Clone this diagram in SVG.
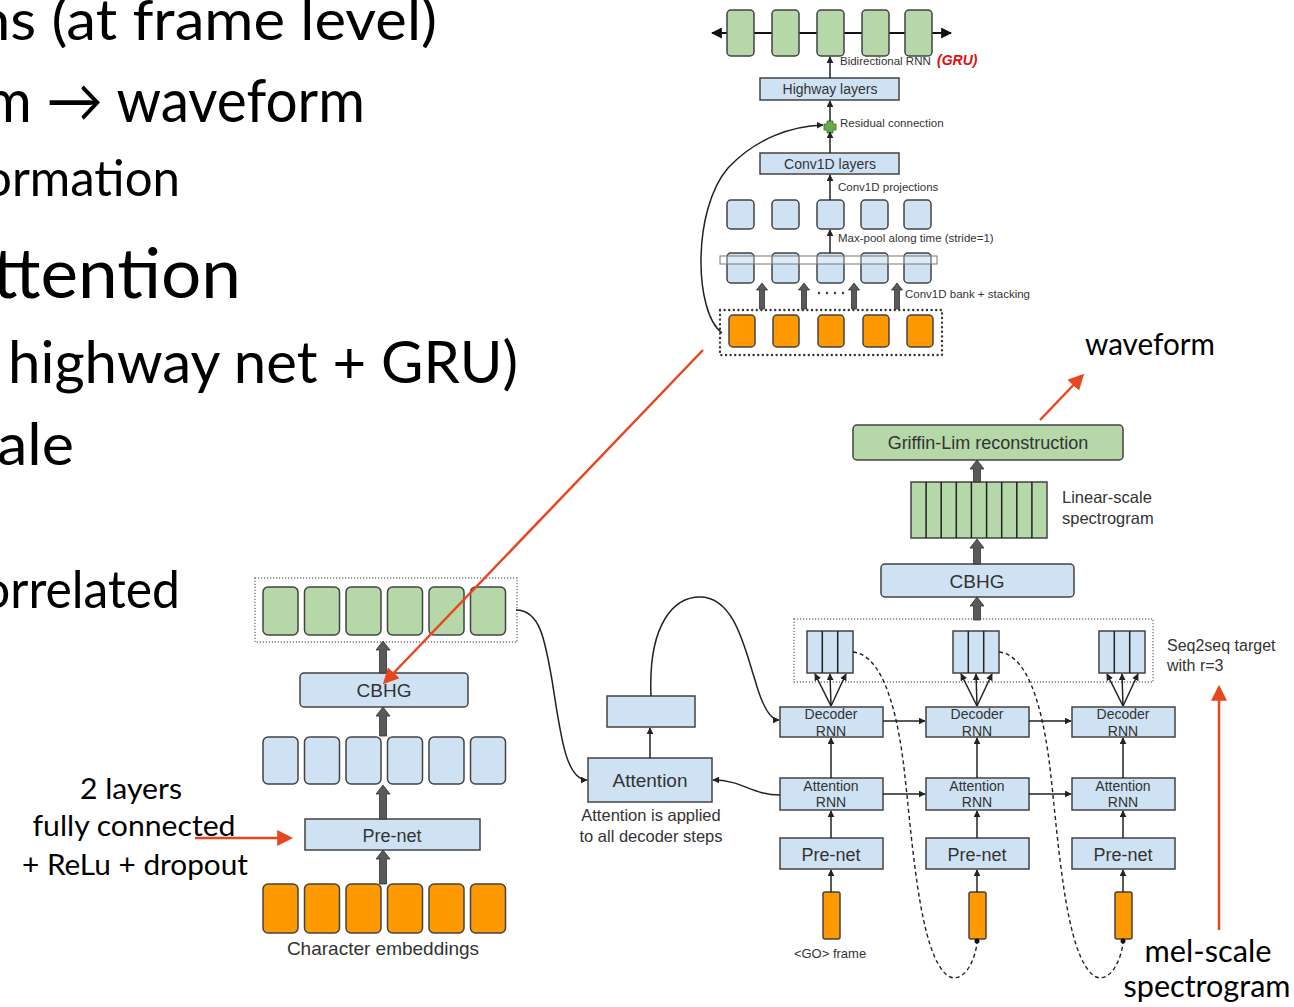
<svg xmlns="http://www.w3.org/2000/svg" width="1294" height="1007" viewBox="0 0 1294 1007">
<defs>
<style>
.big{font-family:Lato,"Noto Sans",sans-serif;fill:#000}
.lbl{font-family:"Liberation Sans",Arial,sans-serif;fill:#333}
.mid{text-anchor:middle}
.blue{fill:#cfe2f3;stroke:#434343;stroke-width:1.5}
.green{fill:#b6d7a8;stroke:#434343;stroke-width:1.5}
.orange{fill:#ff9900;stroke:#434343;stroke-width:1.5}
.thin{fill:none;stroke:#222;stroke-width:1.5}
.blk{fill:#595959;stroke:#333;stroke-width:0.8}
.red{stroke:#e8461e;stroke-width:2.5;fill:none}
.dash{fill:none;stroke:#222;stroke-width:1.4;stroke-dasharray:4 3}
.dotg{fill:none;stroke:#9a9a9a;stroke-width:1.8;stroke-dasharray:1.2 1.8}
.dotk{fill:none;stroke:#333;stroke-width:2.4;stroke-dasharray:0 4.6;stroke-linecap:round}
.col{stroke:#222;stroke-width:1.5}
</style>
<marker id="a" viewBox="0 0 10 10" refX="9" refY="5" markerWidth="7" markerHeight="7" markerUnits="userSpaceOnUse" orient="auto"><path d="M0,0L10,5L0,10z" fill="#222"/></marker>
<marker id="ab" viewBox="0 0 10 10" refX="9" refY="5" markerWidth="11" markerHeight="11" markerUnits="userSpaceOnUse" orient="auto-start-reverse"><path d="M0,0L10,5L0,10z" fill="#111"/></marker>
<marker id="ar" viewBox="0 0 10 10" refX="8" refY="5" markerWidth="16" markerHeight="16" markerUnits="userSpaceOnUse" orient="auto"><path d="M0,0L10,5L0,10z" fill="#e8461e"/></marker>
</defs>
<rect width="1294" height="1007" fill="#fff"/>

<g id="slide-text" class="big">
<text x="-23" y="40" font-size="57" textLength="460" lengthAdjust="spacingAndGlyphs">ns (at frame level)</text>
<text x="-15" y="122" font-size="60" textLength="380" lengthAdjust="spacingAndGlyphs">m → waveform</text>
<text x="-16" y="196" font-size="50" textLength="196" lengthAdjust="spacingAndGlyphs">ormation</text>
<text x="-8" y="298" font-size="70" textLength="249" lengthAdjust="spacingAndGlyphs">ttention</text>
<text x="8" y="383" font-size="58" textLength="510" lengthAdjust="spacingAndGlyphs">highway net + GRU)</text>
<text x="-3" y="465" font-size="58" textLength="77" lengthAdjust="spacingAndGlyphs">ale</text>
<text x="-18" y="608" font-size="53" textLength="198" lengthAdjust="spacingAndGlyphs">orrelated</text>
<text x="131" y="799" font-size="28" class="mid" textLength="102" lengthAdjust="spacingAndGlyphs">2 layers</text>
<text x="134" y="836" font-size="28" class="mid" textLength="203" lengthAdjust="spacingAndGlyphs">fully connected</text>
<text x="135" y="875" font-size="28" class="mid" textLength="226" lengthAdjust="spacingAndGlyphs">+ ReLu + dropout</text>
<text x="1085" y="355" font-size="30" textLength="130" lengthAdjust="spacingAndGlyphs">waveform</text>
<text x="1208" y="962" font-size="30" class="mid" textLength="127" lengthAdjust="spacingAndGlyphs">mel-scale</text>
<text x="1207" y="997" font-size="30" class="mid" textLength="167" lengthAdjust="spacingAndGlyphs">spectrogram</text>
</g>

<g id="connectors-back">
<line x1="712" y1="33" x2="951" y2="33" stroke="#111" stroke-width="1.8" marker-start="url(#ab)" marker-end="url(#ab)"/>
</g>

<g id="cbhg-detail">
<g id="gru-row">
<rect class="green" x="727" y="10" width="27" height="46" rx="4"/>
<rect class="green" x="772" y="10" width="27" height="46" rx="4"/>
<rect class="green" x="817" y="10" width="27" height="46" rx="4"/>
<rect class="green" x="862" y="10" width="27" height="46" rx="4"/>
<rect class="green" x="905" y="10" width="27" height="46" rx="4"/>
</g>
<text class="lbl" x="840" y="65" font-size="11.5">Bidirectional RNN</text>
<text x="937" y="65" font-size="14" font-weight="bold" font-style="italic" fill="#e01010" font-family="Liberation Sans, Arial, sans-serif">(GRU)</text>
<g id="highway"><rect class="blue" x="760" y="78" width="139" height="22"/><text class="lbl mid" x="830" y="94" font-size="14">Highway layers</text></g>
<g id="residual"><path d="M827,121h6v3h3v6h-3v3h-6v-3h-3v-6h3z" fill="#6aa84f" stroke="#38761d" stroke-width="0.8"/><text class="lbl" x="840" y="127" font-size="11.5">Residual connection</text></g>
<g id="conv1d"><rect class="blue" x="760" y="153" width="139" height="21"/><text class="lbl mid" x="830" y="169" font-size="14">Conv1D layers</text></g>
<text class="lbl" x="838" y="191" font-size="11.5">Conv1D projections</text>
<g id="proj-row">
<rect class="blue" x="727" y="200" width="27" height="29" rx="4"/>
<rect class="blue" x="772" y="200" width="27" height="29" rx="4"/>
<rect class="blue" x="817" y="200" width="27" height="29" rx="4"/>
<rect class="blue" x="861" y="200" width="27" height="29" rx="4"/>
<rect class="blue" x="904" y="200" width="27" height="29" rx="4"/>
</g>
<text class="lbl" x="838" y="242" font-size="11.5">Max-pool along time (stride=1)</text>
<g id="bank-row">
<rect class="blue" x="727" y="253" width="27" height="30" rx="4"/>
<rect class="blue" x="772" y="253" width="27" height="30" rx="4"/>
<rect class="blue" x="817" y="253" width="27" height="30" rx="4"/>
<rect class="blue" x="861" y="253" width="27" height="30" rx="4"/>
<rect class="blue" x="904" y="253" width="27" height="30" rx="4"/>
<rect x="720" y="256" width="217" height="8" fill="#fff" fill-opacity="0.3" stroke="#777" stroke-width="1"/>
</g>
<text class="lbl" x="905" y="298" font-size="11.5">Conv1D bank + stacking</text>
<g fill="#333"><circle cx="819" cy="293" r="1.2"/><circle cx="827" cy="293" r="1.2"/><circle cx="835" cy="293" r="1.2"/><circle cx="843" cy="293" r="1.2"/></g>
<g id="cbhg-input">
<rect class="orange" x="729" y="315" width="26" height="32" rx="4"/>
<rect class="orange" x="773" y="315" width="26" height="32" rx="4"/>
<rect class="orange" x="818" y="315" width="26" height="32" rx="4"/>
<rect class="orange" x="863" y="315" width="26" height="32" rx="4"/>
<rect class="orange" x="907" y="315" width="26" height="32" rx="4"/>
<rect class="dotk" x="720" y="310" width="222" height="45"/>
</g>
</g>

<g id="encoder">
<g id="enc-out">
<rect class="dotg" x="255" y="578" width="262" height="64"/>
<rect class="green" x="263" y="587" width="35" height="48" rx="5"/>
<rect class="green" x="304.5" y="587" width="35" height="48" rx="5"/>
<rect class="green" x="346" y="587" width="35" height="48" rx="5"/>
<rect class="green" x="387.5" y="587" width="35" height="48" rx="5"/>
<rect class="green" x="429" y="587" width="35" height="48" rx="5"/>
<rect class="green" x="470.5" y="587" width="35" height="48" rx="5"/>
</g>
<g id="enc-cbhg"><rect class="blue" x="300" y="673" width="168" height="34" rx="4"/><text class="lbl mid" x="384" y="697" font-size="19">CBHG</text></g>
<g id="enc-mid">
<rect class="blue" x="263" y="737" width="35" height="47" rx="5"/>
<rect class="blue" x="304.5" y="737" width="35" height="47" rx="5"/>
<rect class="blue" x="346" y="737" width="35" height="47" rx="5"/>
<rect class="blue" x="387.5" y="737" width="35" height="47" rx="5"/>
<rect class="blue" x="429" y="737" width="35" height="47" rx="5"/>
<rect class="blue" x="470.5" y="737" width="35" height="47" rx="5"/>
</g>
<g id="enc-prenet"><rect class="blue" x="305" y="819" width="175" height="31"/><text class="lbl mid" x="392" y="842" font-size="18">Pre-net</text></g>
<g id="char-emb">
<rect class="orange" x="263" y="884" width="35" height="49" rx="5"/>
<rect class="orange" x="304.5" y="884" width="35" height="49" rx="5"/>
<rect class="orange" x="346" y="884" width="35" height="49" rx="5"/>
<rect class="orange" x="387.5" y="884" width="35" height="49" rx="5"/>
<rect class="orange" x="429" y="884" width="35" height="49" rx="5"/>
<rect class="orange" x="470.5" y="884" width="35" height="49" rx="5"/>
<text class="lbl mid" x="383" y="955" font-size="19">Character embeddings</text>
</g>
</g>

<g id="attention">
<rect id="att-ctx" class="blue" x="607" y="696" width="88" height="31"/>
<g id="att-box"><rect class="blue" x="588" y="758" width="124" height="44"/><text class="lbl mid" x="650" y="787" font-size="19">Attention</text></g>
<text class="lbl mid" x="651" y="821" font-size="16.5">Attention is applied</text>
<text class="lbl mid" x="651" y="842" font-size="16.5">to all decoder steps</text>
</g>

<g id="decoder">
<g id="griffin"><rect class="green" x="853" y="425" width="270" height="35" rx="4"/><text class="lbl mid" x="988" y="449" font-size="18">Griffin-Lim reconstruction</text></g>
<g id="linear-spec">
<rect class="green" x="911" y="482" width="136" height="56"/>
<path class="col" d="M926.1,482v56M941.2,482v56M956.3,482v56M971.4,482v56M986.6,482v56M1001.7,482v56M1016.8,482v56M1031.9,482v56"/>
<text class="lbl" x="1062" y="503" font-size="16.5">Linear-scale</text>
<text class="lbl" x="1062" y="524" font-size="16.5">spectrogram</text>
</g>
<g id="post-cbhg"><rect class="blue" x="881" y="564" width="193" height="33" rx="4"/><text class="lbl mid" x="977" y="588" font-size="19">CBHG</text></g>
<g id="seq2seq-target">
<rect class="dotg" x="794" y="619" width="359" height="63"/>
<rect class="blue" x="807" y="631" width="46" height="42"/><path class="col" d="M822.3,631v42M837.7,631v42"/>
<rect class="blue" x="953" y="631" width="46" height="42"/><path class="col" d="M968.3,631v42M983.7,631v42"/>
<rect class="blue" x="1099" y="631" width="46" height="42"/><path class="col" d="M1114.3,631v42M1129.7,631v42"/>
<text class="lbl" x="1167" y="651" font-size="16">Seq2seq target</text>
<text class="lbl" x="1167" y="671" font-size="16">with r=3</text>
</g>
<g id="dec-rnn">
<rect class="blue" x="780" y="707" width="103" height="30"/>
<rect class="blue" x="926" y="707" width="103" height="30"/>
<rect class="blue" x="1072" y="707" width="103" height="30"/>
<g class="lbl mid" font-size="14">
<text x="831" y="719">Decoder</text><text x="831" y="736">RNN</text>
<text x="977" y="719">Decoder</text><text x="977" y="736">RNN</text>
<text x="1123" y="719">Decoder</text><text x="1123" y="736">RNN</text>
</g>
</g>
<g id="att-rnn">
<rect class="blue" x="780" y="778" width="103" height="32"/>
<rect class="blue" x="926" y="778" width="103" height="32"/>
<rect class="blue" x="1072" y="778" width="103" height="32"/>
<g class="lbl mid" font-size="14">
<text x="831" y="791">Attention</text><text x="831" y="807">RNN</text>
<text x="977" y="791">Attention</text><text x="977" y="807">RNN</text>
<text x="1123" y="791">Attention</text><text x="1123" y="807">RNN</text>
</g>
</g>
<g id="dec-prenet">
<rect class="blue" x="780" y="838" width="103" height="31"/>
<rect class="blue" x="926" y="838" width="103" height="31"/>
<rect class="blue" x="1072" y="838" width="103" height="31"/>
<g class="lbl mid" font-size="18">
<text x="831" y="861">Pre-net</text><text x="977" y="861">Pre-net</text><text x="1123" y="861">Pre-net</text>
</g>
</g>
<g id="dec-input">
<rect class="orange" x="823" y="892" width="17" height="47" rx="2"/>
<rect class="orange" x="969" y="892" width="17" height="47" rx="2"/>
<rect class="orange" x="1115" y="892" width="17" height="47" rx="2"/>
<text class="lbl mid" x="830" y="958" font-size="13">&lt;GO&gt; frame</text>
</g>
</g>

<g id="connectors">
<g class="thin" marker-end="url(#a)">
<line x1="830" y1="78" x2="830" y2="57"/>
<line x1="830" y1="121" x2="830" y2="101"/>
<line x1="830" y1="153" x2="830" y2="132"/>
<line x1="830" y1="200" x2="830" y2="175"/>
<line x1="830" y1="253" x2="830" y2="230"/>
<path d="M722,333 C694,312 692,210 728,168 C756,138 792,126 823,125"/>
<line x1="650" y1="758" x2="650" y2="728"/>
<path d="M651,696 C648,622 675,597 700,597 C735,597 745,650 755,680 C762,705 770,720 779,720"/>
<path d="M516,610 C540,610 545,640 552,680 C560,730 565,780 587,780"/>
<path d="M780,795 C752,795 742,780 713,780"/>
<line x1="883" y1="721" x2="925" y2="721"/>
<line x1="1029" y1="721" x2="1071" y2="721"/>
<line x1="883" y1="794" x2="925" y2="794"/>
<line x1="1029" y1="794" x2="1071" y2="794"/>
<line x1="831" y1="778" x2="831" y2="738"/>
<line x1="977" y1="778" x2="977" y2="738"/>
<line x1="1123" y1="778" x2="1123" y2="738"/>
<line x1="831" y1="838" x2="831" y2="811"/>
<line x1="977" y1="838" x2="977" y2="811"/>
<line x1="1123" y1="838" x2="1123" y2="811"/>
<line x1="831" y1="892" x2="831" y2="870"/>
<line x1="977" y1="892" x2="977" y2="870"/>
<line x1="1123" y1="892" x2="1123" y2="870"/>
<line x1="831" y1="706" x2="815" y2="674"/><line x1="831" y1="706" x2="830" y2="674"/><line x1="831" y1="706" x2="846" y2="674"/>
<line x1="977" y1="706" x2="961" y2="674"/><line x1="977" y1="706" x2="976" y2="674"/><line x1="977" y1="706" x2="992" y2="674"/>
<line x1="1123" y1="706" x2="1107" y2="674"/><line x1="1123" y1="706" x2="1122" y2="674"/><line x1="1123" y1="706" x2="1138" y2="674"/>
</g>
<path class="dash" d="M853,652 C880,655 895,700 903,760 C912,830 918,960 950,977 C965,982 975,960 977,943"/>
<path class="dash" d="M999,652 C1026,655 1041,700 1049,760 C1058,830 1064,960 1096,977 C1111,982 1121,960 1123,943"/>
<circle cx="977" cy="941" r="2.5" fill="#111"/>
<circle cx="1123" cy="941" r="2.5" fill="#111"/>
<g class="blk">
<polygon points="759.5,309 759.5,290 756.5,290 762,283 767.5,290 764.5,290 764.5,309"/>
<polygon points="801.5,309 801.5,290 798.5,290 804,283 809.5,290 806.5,290 806.5,309"/>
<polygon points="851.5,309 851.5,290 848.5,290 854,283 859.5,290 856.5,290 856.5,309"/>
<polygon points="894.5,309 894.5,290 891.5,290 897,283 902.5,290 899.5,290 899.5,309"/>
<polygon points="379.5,673 379.5,650 376,650 383,641 390,650 386.5,650 386.5,673"/>
<polygon points="379.5,736 379.5,716 376,716 383,707 390,716 386.5,716 386.5,736"/>
<polygon points="379.5,819 379.5,794 376,794 383,785 390,794 386.5,794 386.5,819"/>
<polygon points="379.5,884 379.5,859 376,859 383,850 390,859 386.5,859 386.5,884"/>
<polygon points="973.5,620 973.5,606 970,606 977,597 984,606 980.5,606 980.5,620"/>
<polygon points="973.5,564 973.5,548 970,548 977,539 984,548 980.5,548 980.5,564"/>
<polygon points="973.5,482 973.5,469 970,469 977,460 984,469 980.5,469 980.5,482"/>
</g>
<g class="red" marker-end="url(#ar)">
<line x1="703" y1="350" x2="385" y2="682"/>
<line x1="195" y1="838" x2="290" y2="838"/>
<line x1="1040" y1="420" x2="1082" y2="376"/>
<line x1="1219" y1="930" x2="1219" y2="688"/>
</g>
</g>
</svg>
